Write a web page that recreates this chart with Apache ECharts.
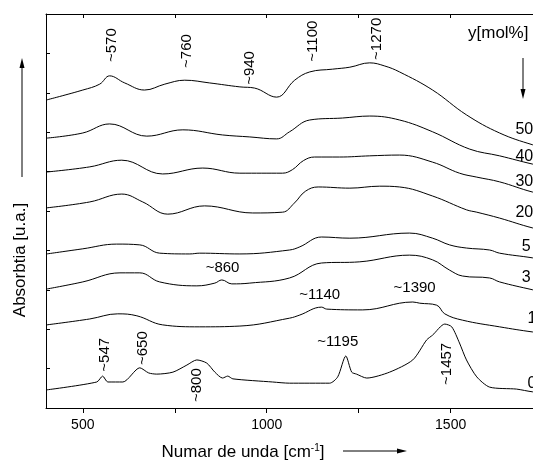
<!DOCTYPE html>
<html><head><meta charset="utf-8">
<script src="https://cdn.jsdelivr.net/npm/echarts@6/dist/echarts.min.js"></script>
<style>html,body{margin:0;padding:0;background:#fff}#c{width:533px;height:468px}</style>
</head><body><div id="c"></div>
<script>
// ---- data ----
const tickValues = [500, 750, 1000, 1250, 1500, 1750];
const labelValues = [500, 1000, 1500];
const seriesNames = ['50', '40', '30', '20', '5', '3', '1', '0'];

const s50 = [[402,7.82],[500,8.07],[546,8.22],[573,8.43],[614,8.25],[668,8.07],[723,8.22],[777,8.32],[845,8.25],[927,8.15],[967,8.12],[1027,7.89],[1076,8.32],[1117,8.53],[1179,8.60],[1226,8.65],[1280,8.76],[1321,8.68],[1361,8.53],[1451,8.07],[1543,7.44],[1633,6.98],[1723,6.68],[1800,6.50]];
const s40 = [[402,6.85],[500,6.98],[573,7.21],[674,6.90],[772,7.06],[880,6.93],[954,6.88],[1027,6.83],[1062,7.01],[1117,7.31],[1206,7.36],[1280,7.41],[1361,7.31],[1451,7.01],[1552,6.57],[1633,6.40],[1723,6.19],[1800,6.04]];
const s30 = [[402,5.99],[519,6.12],[606,6.29],[717,5.94],[826,6.09],[927,5.96],[1043,5.96],[1070,6.05],[1100,6.28],[1130,6.37],[1198,6.37],[1280,6.40],[1361,6.42],[1451,6.24],[1524,5.96],[1571,5.86],[1633,5.74],[1723,5.48],[1800,5.33]];
const s20 = [[402,5.08],[519,5.23],[606,5.43],[663,5.23],[731,4.92],[831,5.13],[962,4.95],[1043,4.97],[1075,5.20],[1105,5.50],[1140,5.61],[1226,5.58],[1307,5.63],[1361,5.61],[1451,5.38],[1543,5.03],[1571,4.97],[1633,4.82],[1723,4.57],[1800,4.42]];
const s5 = [[402,3.91],[500,4.04],[592,4.16],[655,4.14],[709,3.93],[791,3.91],[818,3.93],[927,3.91],[1062,4.01],[1090,4.09],[1149,4.34],[1226,4.31],[1388,4.44],[1451,4.31],[1497,4.14],[1543,4.06],[1606,4.01],[1633,3.93],[1723,3.81],[1800,3.68]];
const s3 = [[402,3.02],[500,3.20],[601,3.43],[655,3.43],[709,3.20],[810,3.10],[859,3.17],[878,3.25],[905,3.15],[954,3.17],[1062,3.30],[1149,3.68],[1253,3.71],[1388,3.88],[1451,3.76],[1497,3.50],[1532,3.35],[1606,3.30],[1633,3.20],[1723,3.00],[1800,2.84]];
const s1 = [[402,2.11],[519,2.26],[595,2.39],[647,2.34],[717,2.11],[818,2.06],[927,2.08],[1062,2.28],[1090,2.36],[1149,2.56],[1163,2.51],[1261,2.49],[1397,2.69],[1416,2.66],[1462,2.61],[1484,2.39],[1532,2.23],[1633,2.06],[1723,1.93],[1800,1.85]];
const s0 = [[402,0.46],[538,0.66],[554,0.81],[568,0.66],[609,0.66],[655,1.02],[679,0.89],[701,0.86],[745,0.91],[783,1.09],[810,1.22],[837,1.14],[859,0.91],[880,0.76],[894,0.81],[908,0.74],[1016,0.66],[1062,0.63],[1171,0.63],[1193,0.79],[1215,1.32],[1231,0.91],[1244,0.86],[1272,0.76],[1334,0.91],[1397,1.22],[1435,1.73],[1451,1.85],[1484,2.13],[1503,2.06],[1524,1.65],[1543,1.22],[1571,0.79],[1606,0.53],[1679,0.48],[1723,0.41],[1800,0.36]];

const peakText = ['~570','~760','~940','~1100','~1270','~860','~1140','~1390','~1195','~1457','~547','~650','~800'];
const peakWn = [579, 783, 954, 1125, 1299, 880, 1144, 1402, 1193, 1489, 560, 663, 810];
const peakAbs = [9.21, 9.06, 8.63, 9.31, 9.37, 3.55, 2.87, 3.05, 1.68, 1.12, 1.35, 1.52, 0.58];
const peakVertical = [true, true, true, true, true, false, false, false, false, true, true, true, true];

const curveLabelWn = [1676, 1676, 1676, 1676, 1693, 1693, 1709, 1709];
const curveLabelAbs = [7.06, 6.37, 5.74, 4.95, 4.09, 3.32, 2.28, 0.63];

// ---- chart ----
const FONT = '"Liberation Sans", Arial, sans-serif';
const allSeries = [s50, s40, s30, s20, s5, s3, s1, s0];
const chart = echarts.init(document.getElementById('c'), null, {renderer: 'canvas'});

chart.setOption({
  animation: false,
  backgroundColor: '#fff',
  grid: {left: 46, top: 14, width: 515, height: 394, containLabel: false, outerBoundsMode: 'none'},
  xAxis: [{
    type: 'value', min: 400, max: 1800, position: 'bottom',
    axisLine: {show: true, onZero: false, lineStyle: {color: '#000', width: 1}},
    axisTick: {show: true, inside: false, length: 5, customValues: tickValues, lineStyle: {color: '#000'}},
    axisLabel: {show: true, customValues: labelValues, color: '#000', fontSize: 14, fontFamily: FONT, margin: 10,
      formatter: v => String(v)},
    splitLine: {show: false}
  }, {
    type: 'value', min: 400, max: 1800, position: 'top',
    axisLine: {show: true, onZero: false, lineStyle: {color: '#000', width: 1}},
    axisTick: {show: true, inside: true, length: 4, customValues: tickValues, lineStyle: {color: '#000'}},
    axisLabel: {show: false},
    splitLine: {show: false}
  }],
  yAxis: [{
    type: 'value', min: 0, max: 10, interval: 1,
    axisLine: {show: true, onZero: false, lineStyle: {color: '#000', width: 1}},
    axisTick: {show: true, inside: true, length: 4, lineStyle: {color: '#000'}},
    axisLabel: {show: false},
    splitLine: {show: false}
  }],
  series: allSeries.map((d, i) => ({
    name: seriesNames[i], type: 'line', data: d, xAxisIndex: 0, yAxisIndex: 0,
    showSymbol: false, symbol: 'none', smooth: i === 7 ? 0.25 : 0.4,
    lineStyle: {color: '#000', width: 1}, silent: true
  }))
});

const toPx = (w, v) => chart.convertToPixel({seriesIndex: 0}, [w, v]);
const graphics = [];

peakText.forEach((t, i) => {
  const p = toPx(peakWn[i], peakAbs[i]);
  graphics.push({
    type: 'text', x: p[0], y: p[1], rotation: peakVertical[i] ? Math.PI / 2 : 0,
    style: {text: t, fill: '#000', font: '15px ' + FONT, textAlign: 'center', textVerticalAlign: 'middle'},
    z: 10
  });
});

seriesNames.forEach((n, i) => {
  const p = toPx(curveLabelWn[i], curveLabelAbs[i]);
  graphics.push({
    type: 'text', x: p[0], y: p[1],
    style: {text: n, fill: '#000', font: '16px ' + FONT, textAlign: 'left', textVerticalAlign: 'middle'},
    z: 10
  });
});

// y[mol%] and its arrow
graphics.push({type: 'text', x: 468, y: 33,
  style: {text: 'y[mol%]', fill: '#000', font: '17px ' + FONT, textAlign: 'left', textVerticalAlign: 'middle'}});
graphics.push({type: 'line', shape: {x1: 523, y1: 58, x2: 523, y2: 91}, style: {stroke: '#000', lineWidth: 1}});
graphics.push({type: 'polygon', shape: {points: [[520.5, 89], [525.5, 89], [523, 99]]}, style: {fill: '#000'}});

// y axis title + arrow
graphics.push({type: 'text', x: 20, y: 260, rotation: Math.PI / 2,
  style: {text: 'Absorbtia [u.a.]', fill: '#000', font: '17px ' + FONT, textAlign: 'center', textVerticalAlign: 'middle'}});
graphics.push({type: 'line', shape: {x1: 22, y1: 177, x2: 22, y2: 66}, style: {stroke: '#000', lineWidth: 1}});
graphics.push({type: 'polygon', shape: {points: [[19.5, 68], [24.5, 68], [22, 58]]}, style: {fill: '#000'}});

// x axis title + arrow
graphics.push({type: 'text', x: 243, y: 452,
  style: {text: 'Numar de unda [cm{sup|-1}]', fill: '#000', font: '17px ' + FONT, textAlign: 'center', textVerticalAlign: 'middle',
    rich: {sup: {fontSize: 10, fontFamily: FONT, fill: '#000', verticalAlign: 'top', lineHeight: 10}}}});
graphics.push({type: 'line', shape: {x1: 343, y1: 451, x2: 398, y2: 451}, style: {stroke: '#000', lineWidth: 1}});
graphics.push({type: 'polygon', shape: {points: [[397, 448.5], [397, 453.5], [407, 451]]}, style: {fill: '#000'}});

chart.setOption({graphic: graphics});
</script>
</body></html>
